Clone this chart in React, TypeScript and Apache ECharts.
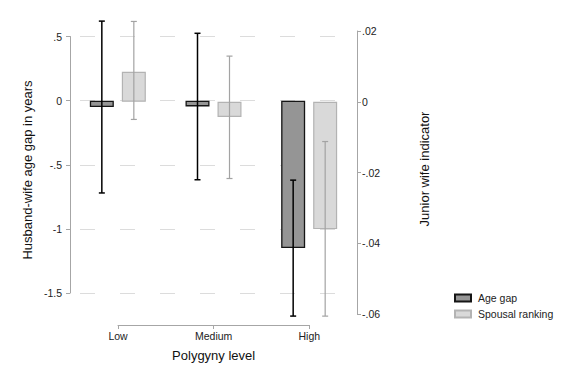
import React, { useEffect, useRef } from "react";
import * as echarts from "echarts";

// ---- data ----
const categories = ["Low", "Medium", "High"];

// Age gap (left axis, years)
const ageGap = [-0.05, -0.045, -1.15];
const ageGapLower = [-0.72, -0.617, -1.68];
const ageGapUpper = [0.62, 0.525, -0.62];

// Spousal ranking (right axis, junior wife indicator)
const spousal = [0.0085, -0.0043, -0.036];
const spousalLower = [-0.005, -0.0217, -0.0606];
const spousalUpper = [0.0227, 0.0129, -0.01125];

// tick labels
const leftTicks = [-1.5, -1, -0.5, 0, 0.5];
const leftTickLabels = ["-1.5", "-1", "-.5", "0", ".5"];
const rightTicks = [-0.06, -0.04, -0.02, 0, 0.02];
const rightTickLabels = ["-.06", "-.04", "-.02", "0", ".02"];

const seriesNames = ["Age gap", "Spousal ranking"];

const FONT = "'Liberation Sans', Arial, Helvetica, sans-serif";
const AXIS_GREY = "#a6a6a6";
const BAR_WIDTH = 24;
const BAR_GAP_PX = 8;
const OFFSET = (BAR_WIDTH + BAR_GAP_PX) / 2;

function labelFor(ticks: number[], labels: string[]) {
  return (v: number) => {
    let best = 0;
    let bd = Infinity;
    ticks.forEach((t, i) => {
      const d = Math.abs(t - v);
      if (d < bd) {
        bd = d;
        best = i;
      }
    });
    return labels[best];
  };
}

function errorRender(offset: number, color: string, width: number, cap: number) {
  return (params: any, api: any) => {
    const i = api.value(0);
    const lo = api.coord([i, api.value(1)]);
    const hi = api.coord([i, api.value(2)]);
    const x = lo[0] + offset;
    const style = { stroke: color, lineWidth: width };
    return {
      type: "group",
      children: [
        { type: "line", shape: { x1: x, y1: hi[1], x2: x, y2: lo[1] }, style },
        { type: "line", shape: { x1: x - cap, y1: hi[1], x2: x + cap, y2: hi[1] }, style },
        { type: "line", shape: { x1: x - cap, y1: lo[1], x2: x + cap, y2: lo[1] }, style },
      ],
    };
  };
}

export default function App() {
  const ref = useRef<HTMLDivElement>(null);

  useEffect(() => {
    document.body.style.margin = "0";
    if (!ref.current) return;
    const chart = echarts.init(ref.current, undefined, { renderer: "svg" });

    const ageErr = categories.map((_, i) => [i, ageGapLower[i], ageGapUpper[i]]);
    const spErr = categories.map((_, i) => [i, spousalLower[i], spousalUpper[i]]);
    const gap = `${(BAR_GAP_PX / BAR_WIDTH) * 100}%`;

    const option: any = {
      animation: false,
      backgroundColor: "#ffffff",
      textStyle: { fontFamily: FONT },
      grid: [
        { left: 70, top: 36.5, width: 287, height: 256.5 },
        { left: 70, top: 31, width: 287, height: 283 },
        { left: 118, top: 305, width: 191.3, height: 20 },
      ],
      xAxis: [
        { gridIndex: 0, type: "category", data: categories, show: false },
        { gridIndex: 1, type: "category", data: categories, show: false },
        {
          gridIndex: 2,
          type: "category",
          data: categories,
          boundaryGap: false,
          axisLine: { show: true, lineStyle: { color: AXIS_GREY, width: 1 } },
          axisTick: { show: true, length: 4, lineStyle: { color: AXIS_GREY } },
          axisLabel: { color: "#222", fontSize: 10.5, margin: 5, fontFamily: FONT },
          splitLine: { show: false },
          name: "Polygyny level",
          nameLocation: "middle",
          nameGap: 24,
          nameTextStyle: { fontSize: 13, color: "#111", fontFamily: FONT },
        },
      ],
      yAxis: [
        {
          gridIndex: 0,
          type: "value",
          position: "left",
          min: -1.5,
          max: 0.5,
          interval: 0.5,
          axisLine: { show: true, lineStyle: { color: AXIS_GREY, width: 1 } },
          axisTick: { show: true, length: 4, lineStyle: { color: AXIS_GREY } },
          axisLabel: {
            color: "#222",
            fontSize: 10.5,
            margin: 8,
            fontFamily: FONT,
            formatter: labelFor(leftTicks, leftTickLabels),
          },
          splitLine: {
            show: true,
            lineStyle: { color: "#dcdcdc", width: 1, type: [15, 25], dashOffset: 30 },
          },
        },
        {
          gridIndex: 1,
          type: "value",
          position: "right",
          min: -0.06,
          max: 0.02,
          interval: 0.02,
          axisLine: { show: true, lineStyle: { color: AXIS_GREY, width: 1 } },
          axisTick: { show: true, length: 4, lineStyle: { color: AXIS_GREY } },
          axisLabel: {
            color: "#222",
            fontSize: 10.5,
            margin: 5,
            fontFamily: FONT,
            formatter: labelFor(rightTicks, rightTickLabels),
          },
          splitLine: { show: false },
        },
        { gridIndex: 2, type: "value", show: false },
      ],
      legend: {
        data: seriesNames,
        orient: "vertical",
        left: 449,
        top: 287,
        itemWidth: 16,
        itemHeight: 7,
        itemGap: 4,
        icon: "rect",
        selectedMode: false,
        textStyle: { fontSize: 10.5, color: "#222", lineHeight: 12, fontFamily: FONT, padding: [0, 0, 0, 2] },
      },
      graphic: [
        {
          type: "text",
          x: 27.5,
          y: 170,
          rotation: Math.PI / 2,
          style: {
            text: "Husband-wife age gap in years",
            fontSize: 13,
            fontFamily: FONT,
            fill: "#111",
            align: "center",
            verticalAlign: "middle",
          },
        },
        {
          type: "text",
          x: 424.5,
          y: 169,
          rotation: Math.PI / 2,
          style: {
            text: "Junior wife indicator",
            fontSize: 13,
            fontFamily: FONT,
            fill: "#111",
            align: "center",
            verticalAlign: "middle",
          },
        },
      ],
      series: [
        {
          name: seriesNames[0],
          type: "bar",
          xAxisIndex: 0,
          yAxisIndex: 0,
          data: ageGap,
          barWidth: BAR_WIDTH,
          barGap: gap,
          itemStyle: { color: "#959595", borderColor: "#151515", borderWidth: 1.3 },
        },
        {
          name: "_pad0",
          type: "bar",
          xAxisIndex: 0,
          yAxisIndex: 0,
          data: ["-", "-", "-"],
          barWidth: BAR_WIDTH,
          barGap: gap,
        },
        {
          name: "_pad1",
          type: "bar",
          xAxisIndex: 1,
          yAxisIndex: 1,
          data: ["-", "-", "-"],
          barWidth: BAR_WIDTH,
          barGap: gap,
        },
        {
          name: seriesNames[1],
          type: "bar",
          xAxisIndex: 1,
          yAxisIndex: 1,
          data: spousal,
          barWidth: BAR_WIDTH,
          barGap: gap,
          itemStyle: { color: "#d9d9d9", borderColor: "#b3b3b3", borderWidth: 1.2 },
        },
        {
          name: "_errAge",
          type: "custom",
          xAxisIndex: 0,
          yAxisIndex: 0,
          clip: false,
          data: ageErr,
          encode: { x: 0, y: [1, 2] },
          renderItem: errorRender(-OFFSET, "#000000", 1.5, 3),
          z: 5,
        },
        {
          name: "_errSp",
          type: "custom",
          xAxisIndex: 1,
          yAxisIndex: 1,
          clip: false,
          data: spErr,
          encode: { x: 0, y: [1, 2] },
          renderItem: errorRender(OFFSET, "#a3a3a3", 1.2, 3),
          z: 5,
        },
      ],
    };

    chart.setOption(option);
    return () => chart.dispose();
  }, []);

  return <div ref={ref} style={{ width: 576, height: 384 }} />;
}
